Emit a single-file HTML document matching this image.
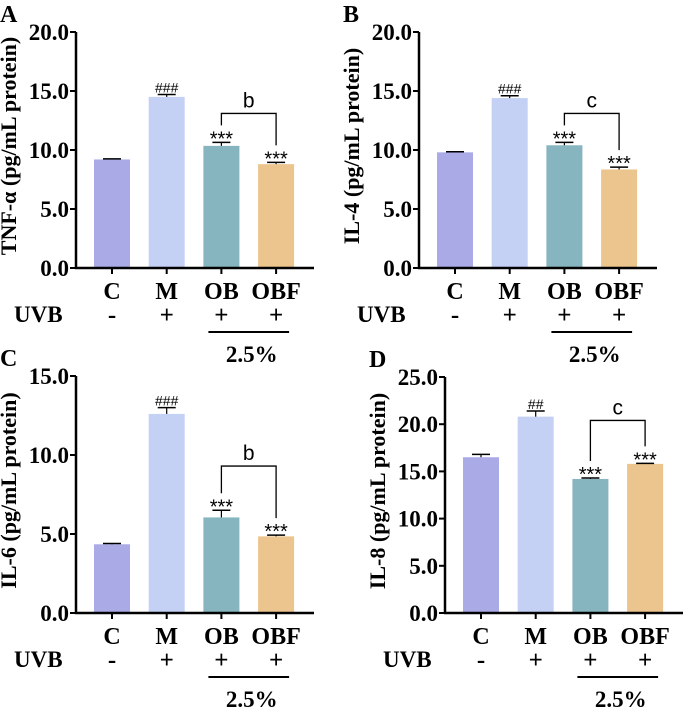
<!DOCTYPE html>
<html><head><meta charset="utf-8"><style>
body{margin:0;background:#fff}
svg{display:block;font-family:"Liberation Serif",serif}
</style></head><body>
<svg id="fig" width="685" height="710" xmlns="http://www.w3.org/2000/svg"></svg>
<script>
const categories=["C","M","OB","OBF"];
const uvbMarks=["-","+","+","+"];
const colors=["#aaaae6","#c4d0f4","#86b4bf","#ecc48d"];
const valuesA=[9.2,14.5,10.35,8.8];
const errorsA=[0.05,0.2,0.3,0.15];
const valuesB=[9.8,14.4,10.4,8.35];
const errorsB=[0.05,0.2,0.25,0.2];
const valuesC=[4.35,12.6,6.05,4.85];
const errorsC=[0.05,0.4,0.45,0.08];
const valuesD=[16.5,20.8,14.2,15.8];
const errorsD=[0.3,0.6,0.1,0.05];
const starsA=["","###","***","***"];
const starsB=["","###","***","***"];
const starsC=["","###","***","***"];
const starsD=["","##","***","***"];
const ticksA=["0.0","5.0","10.0","15.0","20.0"];
const ticksC=["0.0","5.0","10.0","15.0"];
const ticksD=["0.0","5.0","10.0","15.0","20.0","25.0"];
const panels=[
 {id:"a",letter:"A",title:"TNF-α (pg/mL protein)",ax:76,top:32,zero:268,max:20,ticks:ticksA,vals:valuesA,errs:errorsA,stars:starsA,sig:"b",brY:13.1},
 {id:"b",letter:"B",title:"IL-4 (pg/mL protein)",ax:419,top:32,zero:268,max:20,ticks:ticksA,vals:valuesB,errs:errorsB,stars:starsB,sig:"c",brY:13.1},
 {id:"c",letter:"C",title:"IL-6 (pg/mL protein)",ax:76,top:376,zero:613,max:15,ticks:ticksC,vals:valuesC,errs:errorsC,stars:starsC,sig:"b",brY:9.3},
 {id:"d",letter:"D",title:"IL-8 (pg/mL protein)",ax:445,top:377,zero:613,max:25,ticks:ticksD,vals:valuesD,errs:errorsD,stars:starsD,sig:"c",brY:20.4}
];
const svg=document.getElementById('fig');
const NS="http://www.w3.org/2000/svg";
function mk(tag,attrs,parent,text){const e=document.createElementNS(NS,tag);for(const k in attrs)e.setAttribute(k,attrs[k]);if(text!==undefined)e.textContent=text;parent.appendChild(e);return e;}
panels.forEach(p=>{
 const g=mk('g',{},svg);
 
 
 const y=v=>p.zero-(v/p.max)*(p.zero-p.top);
 const x=i=>p.ax+36+i*54.7;
 const L=mk('text',{x:p.ax-76,y:p.top-10,'font-size':24,'font-weight':'bold'},g,p.letter);
 
 
 const yt=mk('text',{transform:`translate(${p.ax-60},${(p.top+p.zero)/2-4}) rotate(-90)`,'text-anchor':'middle','font-size':22,'font-weight':'bold'},g,p.title);
 
 
 p.ticks.forEach(t=>{const v=parseFloat(t);
  mk('line',{x1:p.ax-6,x2:p.ax,y1:y(v),y2:y(v),stroke:'#000','stroke-width':2},g);
  const tl=mk('text',{x:p.ax-7,y:y(v)+8,'text-anchor':'end','font-size':23,'font-weight':'bold'},g,t);
  
  
 });
 p.vals.forEach((v,i)=>{
  const b=mk('rect',{x:x(i)-18,y:y(v),width:36,height:p.zero-y(v),fill:colors[i]},g);
  
  
  const et=y(v+p.errs[i]);
  mk('line',{x1:x(i),x2:x(i),y1:y(v),y2:et,stroke:'#000','stroke-width':1.2},g);
  mk('line',{x1:x(i)-9,x2:x(i)+9,y1:et,y2:et,stroke:'#000','stroke-width':1.5},g);
  if(p.stars[i]){const st=p.stars[i][0]=='*';const s=mk('text',{x:x(i),y:et-2+(st?5:0),'text-anchor':'middle','font-size':st?20:14,'font-family':'Liberation Sans,sans-serif'},g,p.stars[i]);
   
   }
  mk('line',{x1:x(i),x2:x(i),y1:p.zero,y2:p.zero+6,stroke:'#000','stroke-width':2},g);
  const cl=mk('text',{x:x(i),y:p.zero+31,'text-anchor':'middle','font-size':24,'font-weight':'bold'},g,categories[i]);
  
  
  mk('text',{x:x(i),y:p.zero+55,'text-anchor':'middle','font-size':25,'font-weight':'bold'},g,uvbMarks[i]);
 });
 const by=y(p.brY);
 const s2=y(p.vals[2]+p.errs[2])-17, s3=y(p.vals[3]+p.errs[3])-17;
 mk('path',{d:`M${x(2)},${s2} V${by} H${x(3)} V${s3}`,fill:'none',stroke:'#000','stroke-width':1.3},g);
 const sg=mk('text',{x:(x(2)+x(3))/2,y:by-6,'text-anchor':'middle','font-size':21,'font-family':'Liberation Sans,sans-serif'},g,p.sig);
 
 
 mk('line',{x1:p.ax,x2:p.ax,y1:p.top,y2:p.zero+1,stroke:'#000','stroke-width':2.5},g);
 mk('line',{x1:p.ax-1,x2:p.ax+238,y1:p.zero,y2:p.zero,stroke:'#000','stroke-width':2.5},g);
 const u=mk('text',{x:p.ax-62,y:p.zero+54,'font-size':23,'font-weight':'bold'},g,'UVB');
 
 
 mk('line',{x1:x(2)-13,x2:x(3)+13,y1:p.zero+64,y2:p.zero+64,stroke:'#000','stroke-width':2},g);
 const c=mk('text',{x:(x(2)+x(3))/2+3,y:p.zero+94,'text-anchor':'middle','font-size':23,'font-weight':'bold'},g,'2.5%');
 
 
});
</script>
</body></html>
